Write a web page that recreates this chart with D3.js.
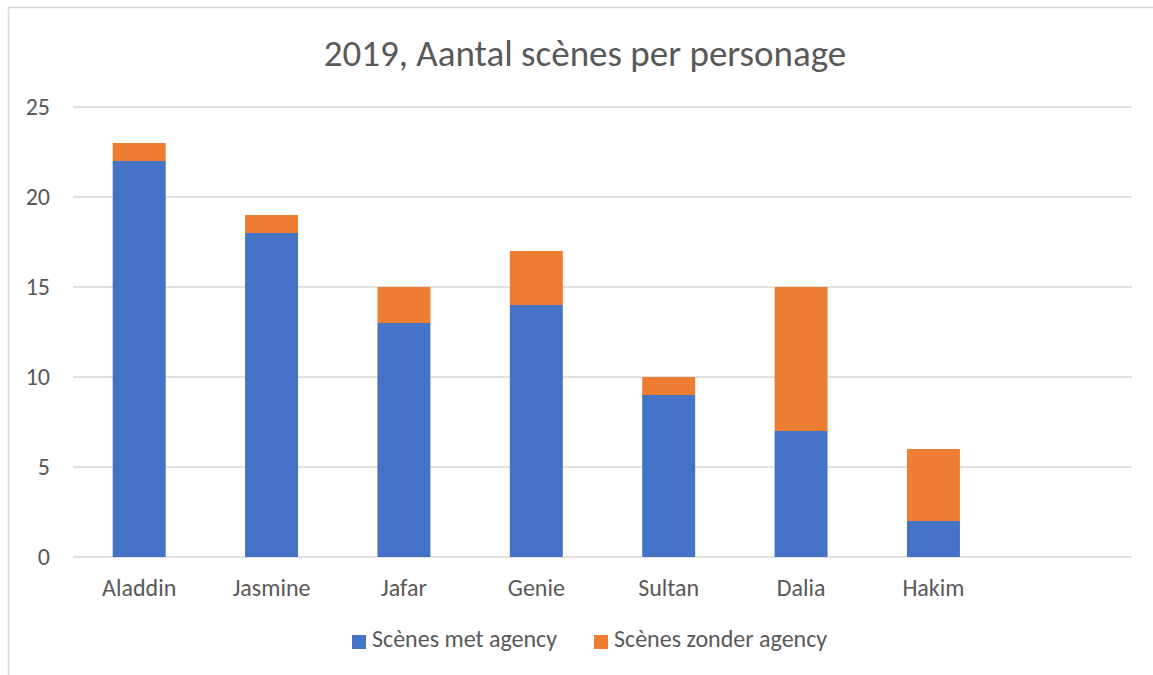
<!DOCTYPE html>
<html>
<head>
<meta charset="utf-8">
<script src="https://cdn.jsdelivr.net/npm/d3@7"></script>
<style>
  body { margin: 0; background: #fff; }
  text { font-family: Carlito, Calibri, "Liberation Sans", sans-serif; fill: #595959; }
</style>
</head>
<body>
<div id="viz"></div>
<script>
const categories = ["Aladdin", "Jasmine", "Jafar", "Genie", "Sultan", "Dalia", "Hakim", ""];
const metAgency = [22, 18, 13, 14, 9, 7, 2, null];
const zonderAgency = [1, 1, 2, 3, 1, 8, 4, null];
const seriesNames = ["Scènes met agency", "Scènes zonder agency"];
const colors = ["#4472C4", "#ED7D31"];
const yTicks = [0, 5, 10, 15, 20, 25];

const W = 1153, H = 675;
const plot = { left: 73, right: 1132, top: 107, bottom: 557 };

const svg = d3.select("#viz").append("svg")
  .attr("width", W).attr("height", H);

// chart border (only left and top visible)
svg.append("rect")
  .attr("x", 8.5).attr("y", 7.5)
  .attr("width", 1200).attr("height", 700)
  .attr("fill", "none").attr("stroke", "#d9d9d9").attr("stroke-width", 1.5);

svg.append("text")
  .attr("x", 585).attr("y", 66)
  .attr("text-anchor", "middle")
  .style("font-size", "37px")
  .text("2019, Aantal scènes per personage");

const x = d3.scaleBand().domain(categories).range([plot.left, plot.right]).padding(0);
const y = d3.scaleLinear().domain([0, 25]).range([plot.bottom, plot.top]);

// gridlines
svg.append("g").selectAll("line").data(yTicks).join("line")
  .attr("x1", plot.left).attr("x2", plot.right)
  .attr("y1", d => y(d)).attr("y2", d => y(d))
  .attr("stroke", "#d9d9d9").attr("stroke-width", 1.3);

// y labels
svg.append("g").selectAll("text").data(yTicks).join("text")
  .attr("x", 50).attr("y", d => y(d) + 8)
  .attr("text-anchor", "end")
  .style("font-size", "24px")
  .text(d => d);

// stacked bars
const rows = categories.map((c, i) => ({ cat: c, met: metAgency[i] || 0, zonder: zonderAgency[i] || 0 }));
const stack = d3.stack().keys(["met", "zonder"])(rows);
const barW = x.bandwidth() * 0.4;

svg.append("g").selectAll("g").data(stack).join("g")
  .attr("fill", (d, i) => colors[i])
  .selectAll("rect").data(d => d.filter(s => s[1] > s[0])).join("rect")
  .attr("x", d => x(d.data.cat) + (x.bandwidth() - barW) / 2)
  .attr("width", barW)
  .attr("y", d => y(d[1]))
  .attr("height", d => y(d[0]) - y(d[1]));

// x labels
svg.append("g").selectAll("text").data(categories).join("text")
  .attr("x", d => x(d) + x.bandwidth() / 2)
  .attr("y", 596)
  .attr("text-anchor", "middle")
  .style("font-size", "24px")
  .text(d => d);

// legend
const legendX = [352, 594];
const lg = svg.append("g").selectAll("g").data(seriesNames).join("g")
  .attr("transform", (d, i) => `translate(${legendX[i]},635)`);
lg.append("rect").attr("width", 14).attr("height", 14).attr("fill", (d, i) => colors[i]);
lg.append("text").attr("x", 20).attr("y", 12).style("font-size", "24px").text(d => d);
</script>
</body>
</html>
